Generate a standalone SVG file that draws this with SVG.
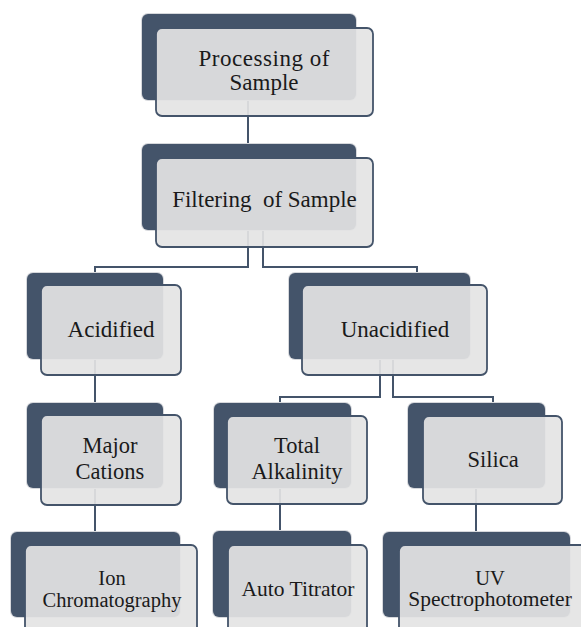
<svg xmlns="http://www.w3.org/2000/svg" width="581" height="627" viewBox="0 0 581 627">
<style>
.halo{fill:#d6d8dc}
.dk{fill:#44546a}
.lt{fill:#e4e4e4;fill-opacity:0.92;stroke:#44546a;stroke-width:1.8}
.cn{fill:none;stroke:#44546a;stroke-width:2}
.t{font-family:'Liberation Serif','Times New Roman','DejaVu Serif',serif;font-size:23px;fill:#1a1a1a;text-anchor:middle}
.m{font-size:22.5px}
.sm{font-size:20.5px}
.s2{font-size:21.5px}
</style>
<rect width="581" height="627" fill="#ffffff"/>
<g id="connectors">
<path class="cn" d="M248,100V144"/>
<path class="cn" d="M248,230V267H95V273"/>
<path class="cn" d="M263,230V267H417V273"/>
<path class="cn" d="M95,359V403"/>
<path class="cn" d="M380,359V397H280V403"/>
<path class="cn" d="M393,359V397H493V403"/>
<path class="cn" d="M95,488V532"/>
<path class="cn" d="M280,488V531"/>
<path class="cn" d="M476,488V532"/>
</g>
<g id="n1">
<rect class="halo" x="141" y="13" width="216" height="88" rx="7"/>
<rect class="dk" x="142" y="14" width="214" height="86" rx="6"/>
<rect class="lt" x="156" y="28" width="217" height="88" rx="6"/>
<text class="t" x="264" y="66" textLength="131" lengthAdjust="spacing">Processing of</text>
<text class="t" x="264" y="90">Sample</text>
</g>
<g id="n2">
<rect class="halo" x="141" y="143" width="216" height="88" rx="7"/>
<rect class="dk" x="142" y="144" width="214" height="86" rx="6"/>
<rect class="lt" x="156" y="158" width="217" height="89" rx="6"/>
<text class="t" x="264.5" y="207" xml:space="preserve">Filtering  of Sample</text>
</g>
<g id="n3">
<rect class="halo" x="26" y="272" width="138" height="88" rx="7"/>
<rect class="dk" x="27" y="273" width="136" height="86" rx="6"/>
<rect class="lt" x="41" y="285" width="140" height="90" rx="6"/>
<text class="t" x="111" y="337">Acidified</text>
</g>
<g id="n4">
<rect class="halo" x="288" y="272" width="183" height="88" rx="7"/>
<rect class="dk" x="289" y="273" width="181" height="86" rx="6"/>
<rect class="lt" x="302" y="285" width="185" height="90" rx="6"/>
<text class="t" x="395" y="337">Unacidified</text>
</g>
<g id="n5">
<rect class="halo" x="26" y="402" width="138" height="87" rx="7"/>
<rect class="dk" x="27" y="403" width="136" height="85" rx="6"/>
<rect class="lt" x="41" y="415" width="140" height="90" rx="6"/>
<text class="t m" x="110" y="453">Major</text>
<text class="t m" x="110" y="479">Cations</text>
</g>
<g id="n6">
<rect class="halo" x="213" y="402" width="139" height="87" rx="7"/>
<rect class="dk" x="214" y="403" width="137" height="85" rx="6"/>
<rect class="lt" x="227" y="416" width="140" height="88" rx="6"/>
<text class="t m" x="297" y="453">Total</text>
<text class="t m" x="297" y="479">Alkalinity</text>
</g>
<g id="n7">
<rect class="halo" x="407" y="402" width="139" height="87" rx="7"/>
<rect class="dk" x="408" y="403" width="137" height="85" rx="6"/>
<rect class="lt" x="423" y="416" width="139" height="88" rx="6"/>
<text class="t m" x="493" y="467">Silica</text>
</g>
<g id="n8">
<rect class="halo" x="10" y="531" width="171" height="87" rx="7"/>
<rect class="dk" x="11" y="532" width="169" height="85" rx="6"/>
<rect class="lt" x="25" y="545" width="172" height="95" rx="6"/>
<text class="t sm" x="112" y="585">Ion</text>
<text class="t sm" x="112" y="607">Chromatography</text>
</g>
<g id="n9">
<rect class="halo" x="212" y="530" width="140" height="88" rx="7"/>
<rect class="dk" x="213" y="531" width="138" height="86" rx="6"/>
<rect class="lt" x="228" y="545" width="139" height="95" rx="6"/>
<text class="t s2" x="298" y="596">Auto Titrator</text>
</g>
<g id="n10">
<rect class="halo" x="382" y="531" width="189" height="87" rx="7"/>
<rect class="dk" x="383" y="532" width="187" height="85" rx="6"/>
<rect class="lt" x="399" y="545" width="188" height="95" rx="6"/>
<text class="t sm" x="490" y="585">UV</text>
<text class="t s2" x="490" y="606">Spectrophotometer</text>
</g>
</svg>
